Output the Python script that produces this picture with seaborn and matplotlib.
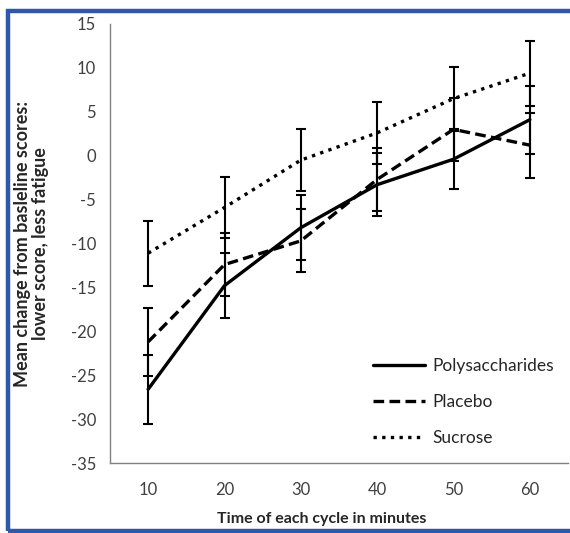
import numpy as np
import pandas as pd
import matplotlib
matplotlib.use("Agg")
import matplotlib.pyplot as plt
import seaborn as sns

# values
minutes = ["10", "20", "30", "40", "50", "60"]
groups = ["Polysaccharides", "Placebo", "Sucrose"]
poly_mean = [-26.6, -14.8, -8.2, -3.3, -0.4, 4.1]
poly_err = [3.95, 3.7, 3.7, 3.6, 3.4, 3.85]
placebo_mean = [-21.2, -12.4, -9.7, -2.7, 3.0, 1.2]
placebo_err = [3.9, 3.6, 3.6, 3.6, 3.6, 3.7]
sucrose_mean = [-11.1, -5.9, -0.5, 2.6, 6.5, 9.4]
sucrose_err = [3.7, 3.5, 3.5, 3.5, 3.65, 3.7]
y_ticks = [15, 10, 5, 0, -5, -10, -15, -20, -25, -30, -35]

means = [poly_mean, placebo_mean, sucrose_mean]
errs = [poly_err, placebo_err, sucrose_err]
pos = np.arange(len(minutes))

df = pd.DataFrame({
    "pos": np.tile(pos, len(groups)),
    "group": np.repeat(groups, len(minutes)),
    "mean": np.concatenate(means),
    "err": np.concatenate(errs),
})

sns.set_style("white")
plt.rcParams["font.family"] = ["Lato", "DejaVu Sans"]
plt.rcParams["axes.unicode_minus"] = False

fig = plt.figure(figsize=(5.7, 5.33), dpi=100)
ax = fig.add_axes([110 / 570, 1 - 463 / 533, 458 / 570, 439 / 533])

for g in groups:
    sub = df[df["group"] == g]
    ax.errorbar(sub["pos"], sub["mean"], yerr=sub["err"], fmt="none",
                ecolor="black", elinewidth=1.5, capsize=3.5, capthick=1.5, zorder=2)

sns.lineplot(data=df, x="pos", y="mean", hue="group", style="group",
             palette=["black"] * 3, dashes={"Polysaccharides": "", "Placebo": (3.2, 1.6),
                                         "Sucrose": (1, 1.6)},
             linewidth=2.4, ax=ax, zorder=3)

ax.set_xlim(-0.5, len(minutes) - 0.5)
ax.set_ylim(-35, 15)
ax.set_yticks(y_ticks)
ax.set_xticks(pos)
ax.set_xticklabels(minutes)
ax.set_xticks(np.arange(-0.5, len(minutes)), minor=True)
ax.tick_params(axis="x", which="major", length=0, pad=14, labelsize=12, labelcolor="#404040")
ax.tick_params(axis="x", which="minor", length=5, width=1, color="#808080", direction="out")
ax.tick_params(axis="y", length=5, width=1, color="#808080", direction="out",
               labelsize=12, labelcolor="#404040", pad=5)
for s in ["top", "right"]:
    ax.spines[s].set_visible(False)
for s in ["left", "bottom"]:
    ax.spines[s].set_color("#808080")
    ax.spines[s].set_linewidth(1)

ax.set_xlabel("Time of each cycle in minutes", fontsize=11.5, fontweight="bold",
              color="#262626")
ax.xaxis.set_label_coords(212 / 458, -49 / 439)
ax.set_ylabel("Mean change from basleline scores:\nlower score, less fatigue",
              fontsize=13, fontweight="bold", color="#262626", linespacing=1.05)
ax.yaxis.set_label_coords(-61 / 458, 0.5)

handles, labels = ax.get_legend_handles_labels()
leg = ax.legend(handles, labels, loc="upper left", bbox_to_anchor=(256 / 458, 112 / 439),
                frameon=False, fontsize=12.5, handlelength=3.0, handletextpad=0.4,
                labelspacing=1.15, borderaxespad=0)
for t in leg.get_texts():
    t.set_color("#262626")

# blue frame around the figure (right edge cut off like the reference)
fig.add_artist(plt.Rectangle((7.5 / 570, 2 / 533), 600 / 570, 520 / 533,
                             transform=fig.transFigure, fill=False,
                             edgecolor="#2f58a8", linewidth=3.2))

fig.savefig("out.png", dpi=100)
